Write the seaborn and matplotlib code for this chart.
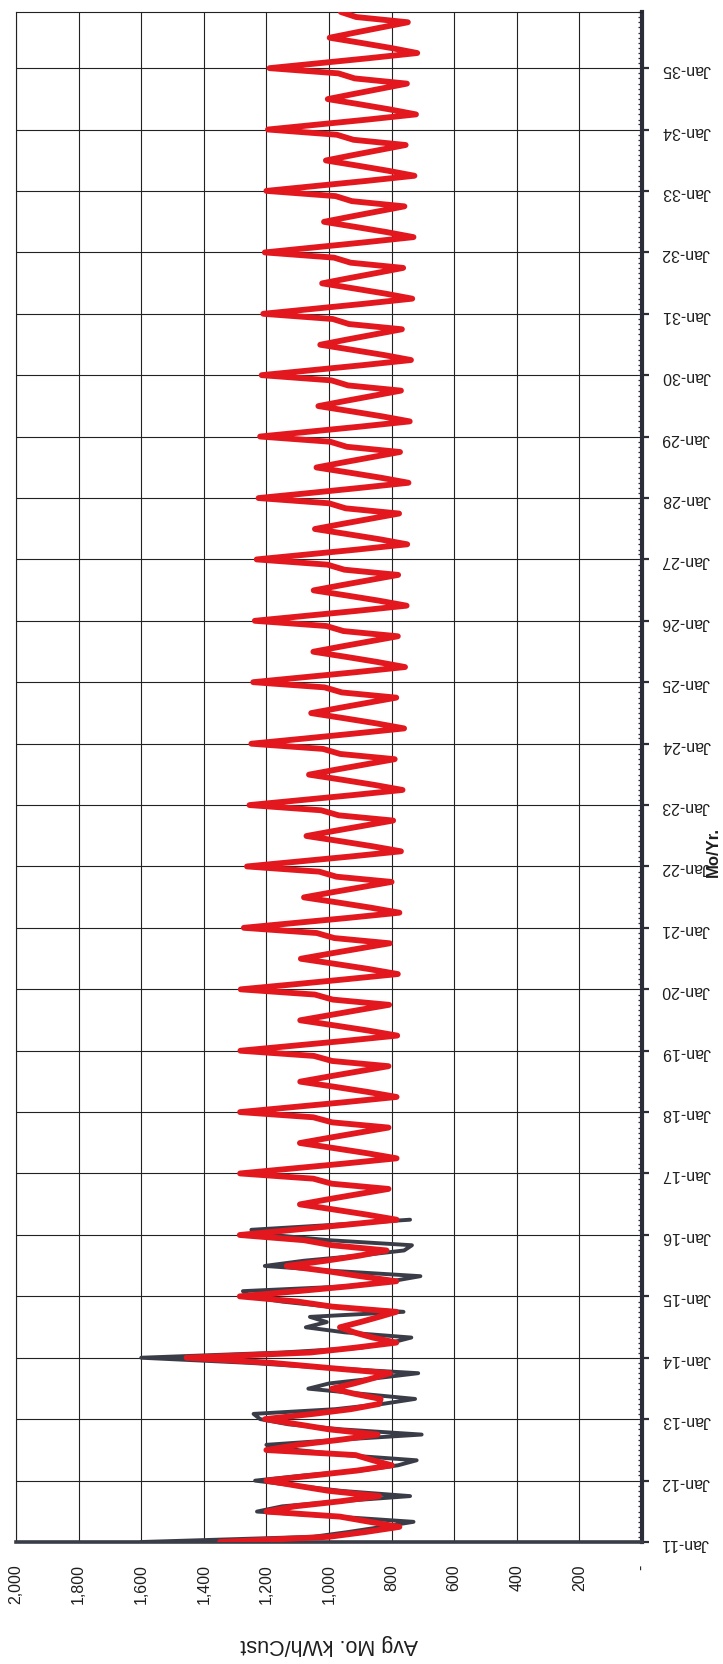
import pandas as pd
import matplotlib
matplotlib.use("Agg")
import matplotlib.pyplot as plt
import matplotlib.dates as mdates
from matplotlib.ticker import MultipleLocator
import seaborn as sns

# Monthly periods, Jan-11 through Dec-35
months = pd.date_range("2011-01-01", "2035-12-01", freq="MS")

# Actual average monthly kWh per customer (Jan-11 .. Apr-16)
actual_kwh = [
    1600, 1050, 940, 830, 730, 975, 1230, 1150, 960, 741, 960, 1100,   # 2011
    1236, 1080, 900, 780, 720, 950, 1100, 1200, 960, 704, 960, 1130,   # 2012
    1220, 1241, 980, 830, 725, 900, 1066, 1000, 850, 715, 1000, 1250,  # 2013
    1600, 1150, 900, 800, 737, 950, 1074, 1007, 1061, 762, 1000, 1150, # 2014
    1255, 1275, 950, 800, 708, 980, 1205, 1080, 900, 760, 735, 1000,   # 2015
    1180, 1248, 990, 741,                                              # 2016
]

# Weather-normalized / projected average monthly kWh per customer (Jan-11 .. Dec-35)
forecast_kwh = [
    1348, 1000, 885, 775, 870, 965, 1200, 1110, 960, 840, 1000, 1100,    # 2011
    1200, 1050, 910, 799, 860, 915, 1200, 1100, 960, 845, 1000, 1100,    # 2012
    1204, 1050, 930, 840, 835, 920, 990, 920, 860, 805, 1000, 1180,      # 2013
    1455, 1060, 920, 785, 860, 920, 965, 900, 840, 785, 990, 1100,       # 2014
    1285, 1100, 940, 785, 900, 1010, 1135, 1010, 900, 816, 990, 1080,    # 2015
    1285, 1110, 950, 784, 878, 986, 1093, 1001, 904, 810, 991, 1050,     # 2016
    1284, 1110, 950, 784, 877, 985, 1093, 1000, 903, 810, 990, 1050,     # 2017
    1284, 1109, 949, 784, 877, 984, 1092, 999, 902, 810, 990, 1048,      # 2018
    1283, 1108, 947, 782, 875, 984, 1092, 998, 902, 808, 988, 1045,      # 2019
    1282, 1106, 946, 780, 873, 982, 1090, 996, 899, 806, 983, 1039,      # 2020
    1272, 1098, 939, 775, 867, 973, 1080, 988, 892, 800, 976, 1031,      # 2021
    1262, 1090, 932, 770, 861, 966, 1072, 981, 886, 795, 969, 1025,      # 2022
    1254, 1083, 926, 765, 855, 959, 1064, 974, 880, 790, 964, 1019,      # 2023
    1248, 1077, 921, 760, 849, 953, 1057, 967, 875, 785, 959, 1014,      # 2024
    1242, 1072, 917, 757, 845, 947, 1050, 961, 869, 780, 954, 1008,      # 2025
    1237, 1067, 912, 752, 841, 945, 1049, 960, 868, 779, 951, 1005,      # 2026
    1231, 1063, 909, 750, 838, 942, 1045, 956, 865, 776, 947, 1000,      # 2027
    1225, 1057, 904, 746, 834, 937, 1040, 952, 861, 773, 943, 996,       # 2028
    1220, 1053, 900, 742, 830, 932, 1034, 947, 857, 770, 939, 992,       # 2029
    1215, 1048, 895, 738, 825, 927, 1028, 942, 853, 767, 936, 988,       # 2030
    1210, 1043, 891, 734, 820, 921, 1022, 936, 847, 763, 931, 984,       # 2031
    1205, 1039, 887, 730, 816, 916, 1016, 931, 844, 759, 927, 979,       # 2032
    1200, 1034, 883, 727, 812, 911, 1010, 926, 839, 755, 922, 975,       # 2033
    1195, 1029, 878, 722, 807, 905, 1004, 920, 834, 751, 918, 970,       # 2034
    1190, 1025, 874, 718, 802, 900, 998, 915, 830, 748, 913, 962,        # 2035
]

value_ticks = [0, 200, 400, 600, 800, 1000, 1200, 1400, 1600, 1800, 2000]
value_labels = ["-", "200", "400", "600", "800", "1,000", "1,200", "1,400",
                "1,600", "1,800", "2,000"]
year_ticks = pd.date_range("2011-01-01", "2035-01-01", freq="YS")
year_labels = [d.strftime("%b-%y") for d in year_ticks]

sns.set_theme(style="white")
plt.rcParams["font.family"] = ["Liberation Sans", "DejaVu Sans"]

W, H = 723, 1664
fig = plt.figure(figsize=(W / 100, H / 100), dpi=100)
fig.patch.set_facecolor("white")
ax = fig.add_axes([16 / W, (H - 1542) / H, 626 / W, 1530 / H])

actual = pd.DataFrame({"month": months[:len(actual_kwh)], "kwh": actual_kwh})
forecast = pd.DataFrame({"month": months, "kwh": forecast_kwh})

sns.lineplot(data=actual, x="kwh", y="month", orient="y", color="#3a3d47",
             linewidth=2.8, ax=ax, zorder=3)
sns.lineplot(data=forecast, x="kwh", y="month", orient="y", color="#e3181f",
             linewidth=4.2, ax=ax, zorder=4)

ax.set_xlim(2000, 0)
ax.set_ylim(months[0], months[-1])

# value axis (bottom)
ax.set_xticks(value_ticks)
ax.set_xticklabels(value_labels, rotation=90)
ax.xaxis.set_minor_locator(MultipleLocator(50))
ax.tick_params(axis="x", which="major", direction="inout", length=8, width=1.6,
               color="#2b2e39", pad=12, labelsize=11.5, labelcolor="#1e1e1e")
ax.tick_params(axis="x", which="minor", direction="in", length=4, width=1.3,
               color="#2b2e39")

# date axis (right)
ax.yaxis.tick_right()
ax.yaxis.set_label_position("right")
ax.set_yticks(year_ticks)
ax.set_yticklabels(year_labels, rotation=180)
ax.yaxis.set_minor_locator(mdates.MonthLocator())
ax.tick_params(axis="y", which="major", direction="out", length=5, width=1.6,
               color="#2b2e39", pad=9, labelsize=11.5, labelcolor="#1e1e1e")
ax.tick_params(axis="y", which="minor", direction="in", length=3, width=0.9,
               color="#2b2e39")

ax.grid(True, which="major", color="#222222", linewidth=0.8)
ax.set_axisbelow(True)

for side, lw, col in [("right", 3.0, "#2b2e39"), ("bottom", 2.6, "#3a3d47"),
                      ("left", 0.8, "#222222"), ("top", 0.8, "#222222")]:
    ax.spines[side].set_visible(True)
    ax.spines[side].set_linewidth(lw)
    ax.spines[side].set_color(col)

ax.set_xlabel("Avg Mo. kWh/Cust", rotation=180, fontsize=15.5,
              color="#1e1e1e", va="center", ha="center")
ax.xaxis.set_label_coords(0.5, (1542 - 1645) / 1530)
ax.set_ylabel("Mo/Yr.", rotation=90, fontsize=12, fontweight="bold",
              color="#1e1e1e", va="center", ha="center")
ax.yaxis.set_label_coords((713 - 16) / 626, (1542 - 852) / 1530)

fig.savefig("out.png", dpi=100)
